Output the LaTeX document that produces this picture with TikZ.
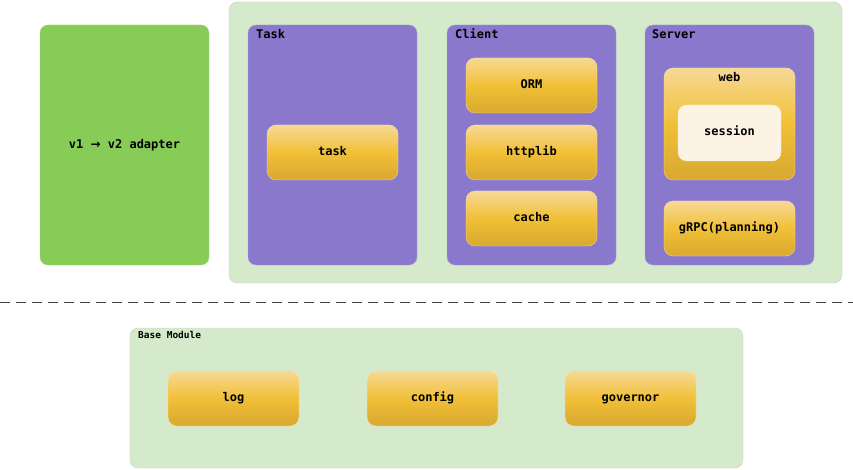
\documentclass[tikz,border=0pt]{standalone}
\usepackage{fontspec}
\setmonofont{DejaVu Sans Mono}
\newfontfamily\arrowfont{DejaVu Sans}
\usetikzlibrary{positioning}
\definecolor{adaptgreen}{HTML}{88CC58}
\definecolor{palegreen}{HTML}{D5EACB}
\definecolor{layerpurple}{HTML}{8A78CC}
\definecolor{goldtop}{HTML}{F6D996}
\definecolor{goldmid}{HTML}{F1C036}
\definecolor{goldbot}{HTML}{D8A831}
\definecolor{cream}{HTML}{FCF3E4}
\tikzset{
  region/.style={rectangle,rounded corners=8pt,fill=palegreen,draw=palegreen!90!black,line width=0.3pt,inner sep=0pt},
  adapter/.style={rectangle,rounded corners=8pt,fill=adaptgreen,draw=adaptgreen!80!white,line width=0.4pt,inner sep=0pt},
  layer/.style={rectangle,rounded corners=8pt,fill=layerpurple,draw=layerpurple!70!white,line width=0.4pt,inner sep=0pt},
  item/.style={rectangle,rounded corners=9pt,top color=goldtop,bottom color=goldbot,middle color=goldmid,
    draw=goldtop!70!white,line width=0.3pt,minimum width=131pt,minimum height=55pt,inner sep=0pt,
    text height=8.5pt,text depth=2.5pt},
  sess/.style={rectangle,rounded corners=9pt,fill=cream,draw=cream,minimum width=103pt,minimum height=56pt,inner sep=0pt,
    text height=8.5pt,text depth=2.5pt},
  title/.style={anchor=north west,inner sep=0pt},
  sep/.style={dashed,dash pattern=on 10pt off 6pt,line width=0.8pt,black!75}
}

\begin{document}
\begin{tikzpicture}[x=1pt,y=-1pt,
  every node/.style={font=\ttfamily\bfseries\fontsize{12}{14}\selectfont}]
\useasboundingbox (0,0) rectangle (853,470);

% Upper part
\node[region,minimum width=613pt,minimum height=281pt] (app) at (535.5,142.5) {};
\node[adapter,minimum width=169pt,minimum height=240pt] (adapt) at (124.5,145) {v1 {\arrowfont\bfseries →} v2 adapter};

% Layers
\node[layer,minimum width=169pt,minimum height=240pt] (tasklayer) at (332.5,145) {};
\node[layer,minimum width=169pt,minimum height=240pt] (clientlayer) at (531.5,145) {};
\node[layer,minimum width=169pt,minimum height=240pt] (serverlayer) at (729.5,145) {};
\node[title] (tasktitle) at (256,29) {Task};
\node[title] (clienttitle) at (455,29) {Client};
\node[title] (servertitle) at (652,29) {Server};

% Task
\node[item] (task) at (332.5,152.5) {task};

% Client
\node[item] (orm) at (531.5,85.5) {ORM};
\node[item] (httplib) at (531.5,152.5) {httplib};
\node[item] (cache) at (531.5,218.5) {cache};

% Server
\node[item,minimum height=112pt] (web) at (729.5,124) {};
\node[anchor=north,inner sep=0pt] (webtitle) at (729.5,72) {web};
\node[sess] (session) at (729.5,133) {session};
\node[item,minimum height=55pt] (grpc) at (729.5,228.5) {gRPC(planning)};

% Separator
\coordinate (sepl) at (0,302);
\coordinate (sepr) at (853,302);
\draw[sep] (sepl) -- (sepr);

% Base module
\node[region,minimum width=613pt,minimum height=140pt] (base) at (436.5,398) {};
\node[title,font=\ttfamily\bfseries\fontsize{9.5}{11}\selectfont] (basetitle) at (138,331) {Base Module};
\node[item] (log) at (233.5,398.5) {log};
\node[item] (config) at (432.5,398.5) {config};
\node[item] (governor) at (630.5,398.5) {governor};

\end{tikzpicture}
\end{document}
